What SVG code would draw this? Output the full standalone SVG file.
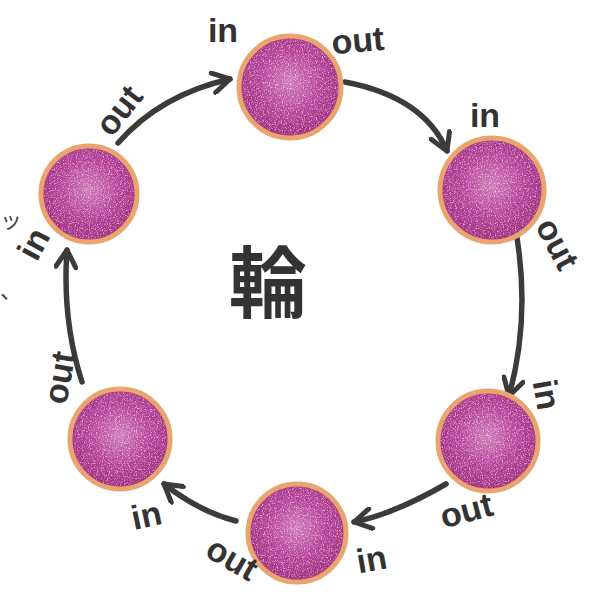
<svg xmlns="http://www.w3.org/2000/svg" width="592" height="592" viewBox="0 0 592 592">
<style>
.disc{fill:url(#pg);stroke:#e9a46f;stroke-width:5}
.speck{fill:#ffffff;filter:url(#spk);opacity:0.6}
.lbl{font-family:"Liberation Sans","DejaVu Sans",sans-serif;font-weight:700;font-size:34px;fill:#333333;text-anchor:middle}
.arr{fill:none;stroke:#3b3b3b;stroke-width:5.5;stroke-linecap:round;marker-end:url(#ah)}
.edge{font-family:"Noto Sans CJK JP",sans-serif;font-size:22px;fill:#444444}
</style>
<defs>
<radialGradient id="pg" cx="0.5" cy="0.45" r="0.55">
<stop offset="0" stop-color="#d07ab8"/>
<stop offset="0.55" stop-color="#b5439a"/>
<stop offset="1" stop-color="#a0307f"/>
</radialGradient>
<filter id="spk" x="0" y="0" width="100%" height="100%">
<feTurbulence type="fractalNoise" baseFrequency="0.85" numOctaves="2" seed="4" result="n"/>
<feColorMatrix in="n" type="matrix" values="0 0 0 0 1  0 0 0 0 1  0 0 0 0 1  3.2 0 0 0 -1.55" result="w"/>
<feComposite in="w" in2="SourceGraphic" operator="in"/>
</filter>
<marker id="ah" viewBox="0 0 24 24" refX="20" refY="12" markerWidth="24" markerHeight="24" markerUnits="userSpaceOnUse" orient="auto">
<path d="M3,2 L20,12 L3,22" fill="none" stroke="#3b3b3b" stroke-width="5" stroke-linecap="round" stroke-linejoin="round"/>
</marker>
</defs>
<rect width="592" height="592" fill="#ffffff"/>
<g id="connectors">
<path class="arr" d="M118,143 Q160,95 230,79"/>
<path class="arr" d="M345,82 Q424,97 447,151"/>
<path class="arr" d="M517,238 Q530,320 509,396"/>
<path class="arr" d="M446,484 Q394,514 354,522"/>
<path class="arr" d="M236,521 Q200,512 164,484"/>
<path class="arr" d="M82,382 Q62,320 67,250"/>
</g>
<g id="node-top"><circle class="disc" cx="290" cy="87" r="51"/><circle class="speck" cx="290" cy="87" r="48"/></g>
<g id="node-upper-right"><circle class="disc" cx="492" cy="190" r="52"/><circle class="speck" cx="492" cy="190" r="49"/></g>
<g id="node-lower-right"><circle class="disc" cx="488" cy="441" r="50"/><circle class="speck" cx="488" cy="441" r="47"/></g>
<g id="node-bottom"><circle class="disc" cx="297" cy="533" r="49"/><circle class="speck" cx="297" cy="533" r="46"/></g>
<g id="node-lower-left"><circle class="disc" cx="120" cy="439" r="50"/><circle class="speck" cx="120" cy="439" r="47"/></g>
<g id="node-upper-left"><circle class="disc" cx="89" cy="194" r="48"/><circle class="speck" cx="89" cy="194" r="45"/></g>
<g id="labels">
<text class="lbl" transform="translate(223,33)" y="9">in</text>
<text class="lbl" transform="translate(358,43) rotate(-5)" y="9">out</text>
<text class="lbl" transform="translate(121,112) rotate(-52)" y="9">out</text>
<text class="lbl" transform="translate(485,118)" y="9">in</text>
<text class="lbl" transform="translate(555,245) rotate(62)" y="9">out</text>
<text class="lbl" transform="translate(544,395) rotate(80)" y="9">in</text>
<text class="lbl" transform="translate(467,513) rotate(-15)" y="9">out</text>
<text class="lbl" transform="translate(372,562) rotate(-10)" y="9">in</text>
<text class="lbl" transform="translate(231,561) rotate(30)" y="9">out</text>
<text class="lbl" transform="translate(147,518) rotate(-12)" y="9">in</text>
<text class="lbl" transform="translate(62,378) rotate(-80)" y="9">out</text>
<text class="lbl" transform="translate(36,245) rotate(-62)" y="9">in</text>
</g>
<text x="268" y="312" font-family="Noto Sans CJK JP" font-weight="700" font-size="78" fill="#333333" text-anchor="middle">輪</text>
<text class="edge" x="0" y="228">ッ</text>
<text class="edge" x="0" y="298">、</text>
</svg>
